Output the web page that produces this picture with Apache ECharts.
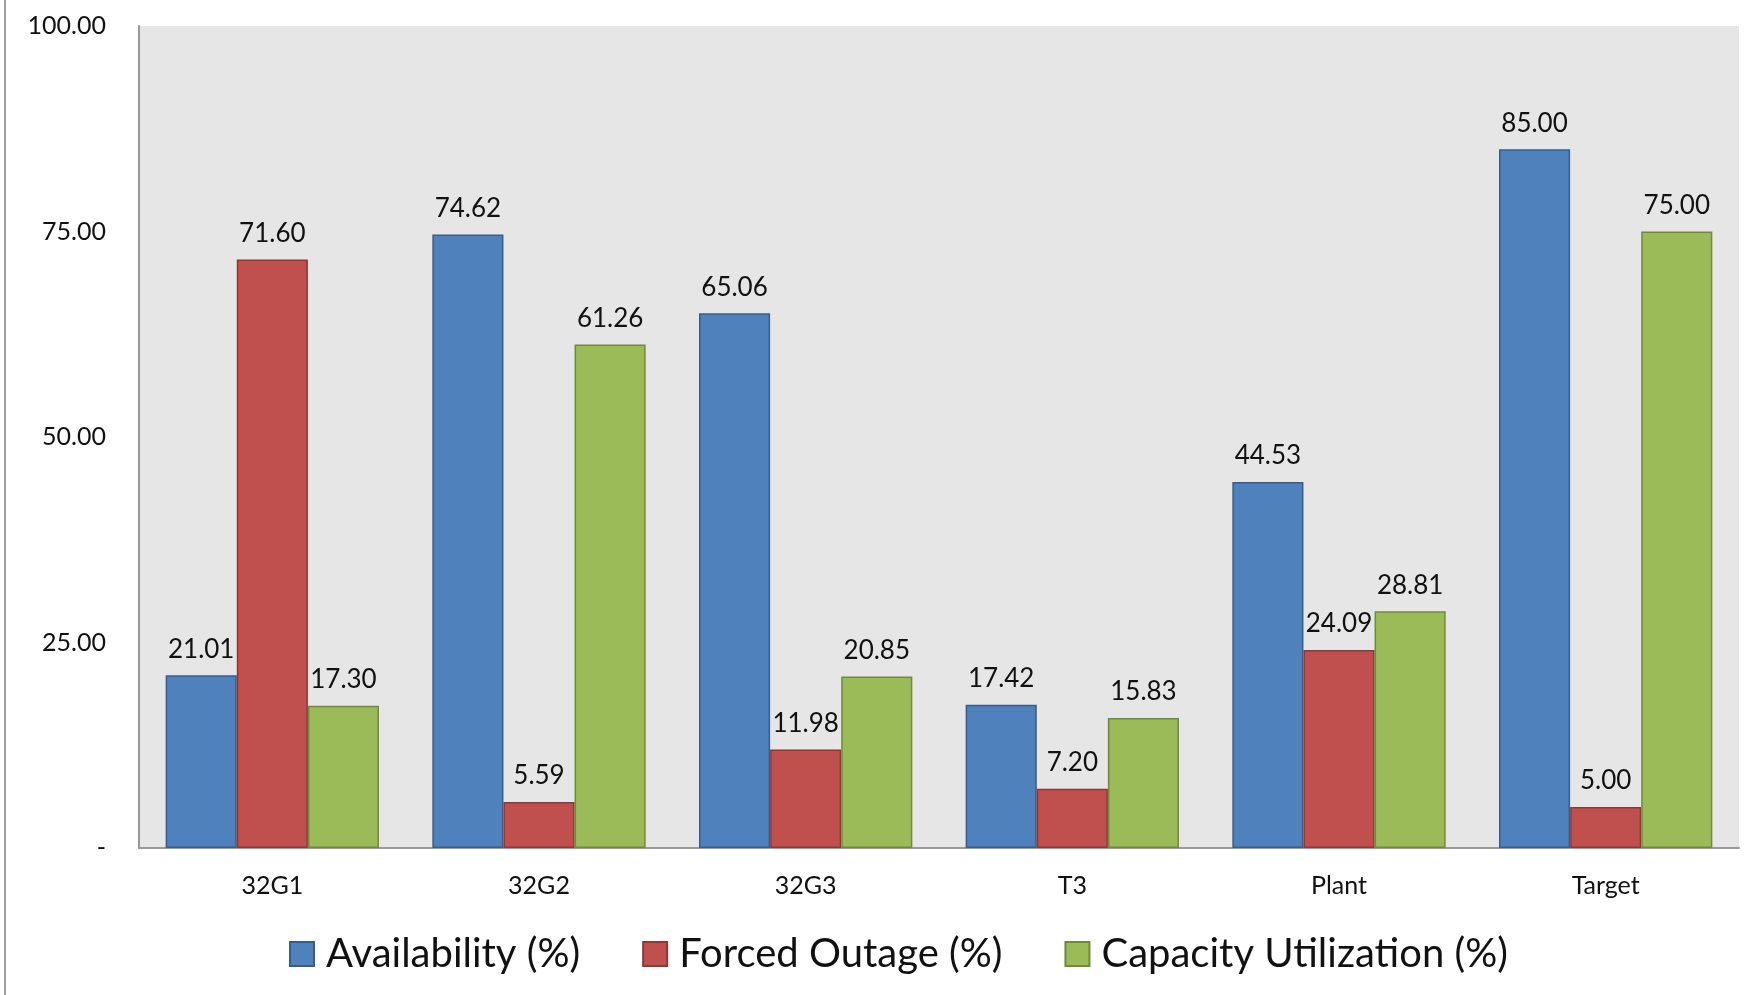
<!DOCTYPE html>
<html>
<head>
<meta charset="utf-8">
<script src="https://cdn.jsdelivr.net/npm/echarts@6/dist/echarts.min.js"></script>
<style>
html,body{margin:0;padding:0;background:#fff;}
#chart{width:1748px;height:995px;}
</style>
</head>
<body>
<div id="chart"></div>
<script>
const categories = ['32G1', '32G2', '32G3', 'T3', 'Plant', 'Target'];
const availability = [21.01, 74.62, 65.06, 17.42, 44.53, 85.00];
const forcedOutage = [71.60, 5.59, 11.98, 7.20, 24.09, 5.00];
const capacityUtilization = [17.30, 61.26, 20.85, 15.83, 28.81, 75.00];
const seriesNames = ['Availability (%)', 'Forced Outage (%)', 'Capacity Utilization (%)'];
const yTicks = [0, 25, 50, 75, 100];

const FONT = 'Lato, "Open Sans", sans-serif';
const chart = echarts.init(document.getElementById('chart'));

function barSeries(name, data, color, border) {
  return {
    name: name,
    type: 'bar',
    data: data,
    barGap: '0%',
    barCategoryGap: '20%',
    itemStyle: { color: color, borderColor: border, borderWidth: 1.5 },
    label: {
      show: true,
      position: 'top',
      distance: 13,
      color: '#111',
      fontFamily: FONT,
      fontSize: 26,
      formatter: p => p.value.toFixed(2)
    }
  };
}

chart.setOption({
  animation: false,
  backgroundColor: '#ffffff',
  textStyle: { fontFamily: FONT },
  graphic: [{
    type: 'line',
    shape: { x1: 5, y1: 0, x2: 5, y2: 995 },
    style: { stroke: '#a0a0a0', lineWidth: 2 }
  }],
  grid: {
    left: 139, right: 9, top: 26, bottom: 147,
    show: true, backgroundColor: '#e6e6e6', borderWidth: 0
  },
  legend: {
    left: 284,
    top: 929,
    itemWidth: 24,
    itemHeight: 24,
    itemGap: 62,
    icon: 'rect',
    textStyle: { fontFamily: FONT, fontSize: 40, color: '#111', padding: [0, 0, 0, 7] },
    data: seriesNames
  },
  xAxis: {
    type: 'category',
    data: categories,
    axisLine: { lineStyle: { color: '#999', width: 2 } },
    axisTick: { show: false },
    axisLabel: { fontFamily: FONT, fontSize: 25, color: '#111', margin: 25 }
  },
  yAxis: {
    type: 'value',
    min: yTicks[0],
    max: yTicks[yTicks.length - 1],
    interval: 25,
    splitLine: { show: false },
    axisLine: { show: true, lineStyle: { color: '#999', width: 2 } },
    axisTick: { show: false },
    axisLabel: {
      fontFamily: FONT, fontSize: 25, color: '#111', margin: 33,
      formatter: v => v === 0 ? '-' : v.toFixed(2)
    }
  },
  series: [
    barSeries(seriesNames[0], availability, '#4F81BD', '#385D8A'),
    barSeries(seriesNames[1], forcedOutage, '#C0504D', '#8C3836'),
    barSeries(seriesNames[2], capacityUtilization, '#9BBB59', '#71893F')
  ]
});
</script>
</body>
</html>
